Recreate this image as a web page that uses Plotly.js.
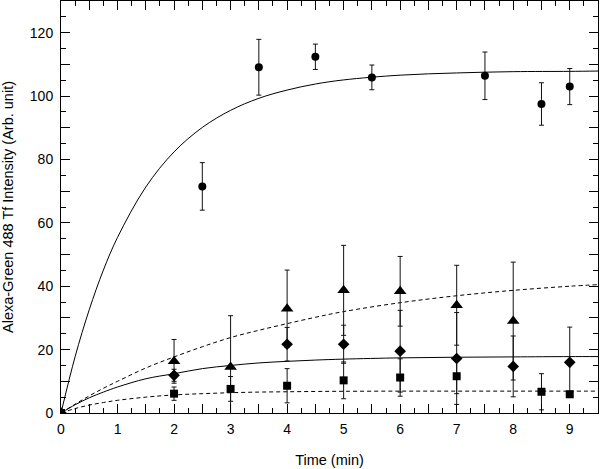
<!DOCTYPE html>
<html>
<head>
<meta charset="utf-8">
<script src="https://cdn.plot.ly/plotly-3.0.1.min.js"></script>
<style>html,body{margin:0;padding:0;background:#fff;}#chart{width:600px;height:469px;}</style>
</head>
<body>
<div id="chart"></div>
<script>
// ---- data ----
const timeCircle = [0, 2.5, 3.5, 4.5, 5.5, 7.5, 8.5, 9];
const circleVals = [0, 71.5, 109.1, 112.4, 105.9, 106.4, 97.5, 103.0];
const circleErr  = [0, 7.5, 8.8, 4.0, 3.9, 7.5, 6.7, 5.7];

const timeTriangle = [0, 2, 3, 4, 5, 6, 7, 8];
const triangleVals = [0, 16.3, 14.5, 32.9, 38.7, 38.4, 34.0, 29.0];
const triangleErr  = [0, 6.9, 16.2, 12.2, 14.2, 11.0, 12.6, 18.6];

const timeDiamond = [0, 2, 4, 5, 6, 7, 8, 9];
const diamondVals = [0, 11.9, 21.7, 21.7, 19.5, 17.2, 14.7, 16.0];
const diamondErr  = [0, 1.9, 5.3, 6.0, 12.9, 14.5, 9.6, 11.1];

const timeSquare = [0, 2, 3, 4, 5, 6, 7, 8.5, 9];
const squareVals = [0, 6.1, 7.6, 8.6, 10.3, 11.2, 11.6, 6.7, 5.9];
const squareErr  = [0, 2.1, 3.9, 5.4, 5.8, 5.9, 5.5, 5.7, 1.0];

// fitted curves
const curveTime   = [0, 0.25, 0.5, 0.75, 1, 1.5, 2, 2.5, 3, 3.5, 4, 4.5, 5, 6, 7, 8, 9, 9.5];
const fitCircle   = [0, 17.8, 32.6, 45.1, 55.4, 71.3, 82.4, 90.1, 95.5, 99.3, 101.9, 103.8, 105.1, 106.6, 107.3, 107.7, 107.8, 107.9];
const fitTriangle = [0, 2.8, 5.4, 7.8, 10.0, 14.2, 17.7, 20.9, 23.8, 26.1, 28.2, 30.2, 32.0, 34.8, 37.0, 38.7, 40.0, 40.5];
const fitDiamond  = [0, 2.6, 4.8, 6.6, 8.2, 10.8, 12.4, 14.0, 15.0, 15.8, 16.3, 16.7, 17.0, 17.4, 17.6, 17.7, 17.8, 17.8];
const fitSquare   = [0, 1.4, 2.5, 3.3, 4.0, 5.0, 5.7, 6.1, 6.4, 6.6, 6.7, 6.8, 6.85, 6.9, 6.9, 6.9, 6.9, 6.9];

const xTickVals = [0, 0.5, 1, 1.5, 2, 2.5, 3, 3.5, 4, 4.5, 5, 5.5, 6, 6.5, 7, 7.5, 8, 8.5, 9, 9.5];
const xTickText = ['0', '', '1', '', '2', '', '3', '', '4', '', '5', '', '6', '', '7', '', '8', '', '9', ''];
const yTickVals = [0, 10, 20, 30, 40, 50, 60, 70, 80, 90, 100, 110, 120, 130];
const yTickText = ['0', '', '20', '', '40', '', '60', '', '80', '', '100', '', '120', ''];

// ---- drawing ----
const font = 'Liberation Sans, Arial, sans-serif';
function curve(y, dash) {
  return {x: curveTime, y: y, mode: 'lines', type: 'scatter', hoverinfo: 'skip',
          line: {color: '#000', width: 1, dash: dash, shape: 'spline'}};
}
function pts(x, y, err, symbol, size) {
  return {x: x, y: y, mode: 'markers', type: 'scatter', cliponaxis: true,
          marker: {symbol: symbol, size: size, color: '#000'},
          error_y: {type: 'data', array: err, visible: true, color: '#111', thickness: 1, width: 2.5}};
}
const traces = [
  curve(fitCircle, 'solid'),
  curve(fitTriangle, '4px,3px'),
  curve(fitDiamond, 'solid'),
  curve(fitSquare, '4px,3px'),
  pts(timeCircle, circleVals, circleErr, 'circle', 8),
  pts(timeTriangle, triangleVals, triangleErr, 'triangle-up', 11),
  pts(timeDiamond, diamondVals, diamondErr, 'diamond', 9),
  pts(timeSquare, squareVals, squareErr, 'square', 8)
];
const axisCommon = {
  showgrid: false, zeroline: false, showline: true, linecolor: '#000', linewidth: 1,
  mirror: 'allticks', ticks: 'inside', ticklen: 9, tickwidth: 1, tickcolor: '#000',
  tickmode: 'array', tickfont: {family: font, size: 14, color: '#000'}, fixedrange: true
};
const layout = {
  width: 600, height: 469,
  margin: {l: 61, r: 2, t: 1, b: 56},
  paper_bgcolor: '#fff', plot_bgcolor: '#fff',
  showlegend: false,
  font: {family: font, color: '#000'},
  xaxis: Object.assign({}, axisCommon, {
    range: [0, 9.5], tickvals: xTickVals, ticktext: xTickText,
    minor: {tick0: 0, dtick: 0.25, ticks: 'inside', ticklen: 5, tickcolor: '#000', tickwidth: 1},
    ticklabelstandoff: 3,
    title: {text: 'Time (min)', font: {family: font, size: 14.5, color: '#000'}, standoff: 19}
  }),
  yaxis: Object.assign({}, axisCommon, {
    range: [0, 130], tickvals: yTickVals, ticktext: yTickText,
    minor: {tick0: 0, dtick: 5, ticks: 'inside', ticklen: 5, tickcolor: '#000', tickwidth: 1},
    ticklabelstandoff: 4,
    title: {text: 'Alexa-Green 488 Tf Intensity (Arb. unit)', font: {family: font, size: 14.5, color: '#000'}, standoff: 13}
  })
};
Plotly.newPlot('chart', traces, layout, {staticPlot: true, displayModeBar: false});
</script>
</body>
</html>
